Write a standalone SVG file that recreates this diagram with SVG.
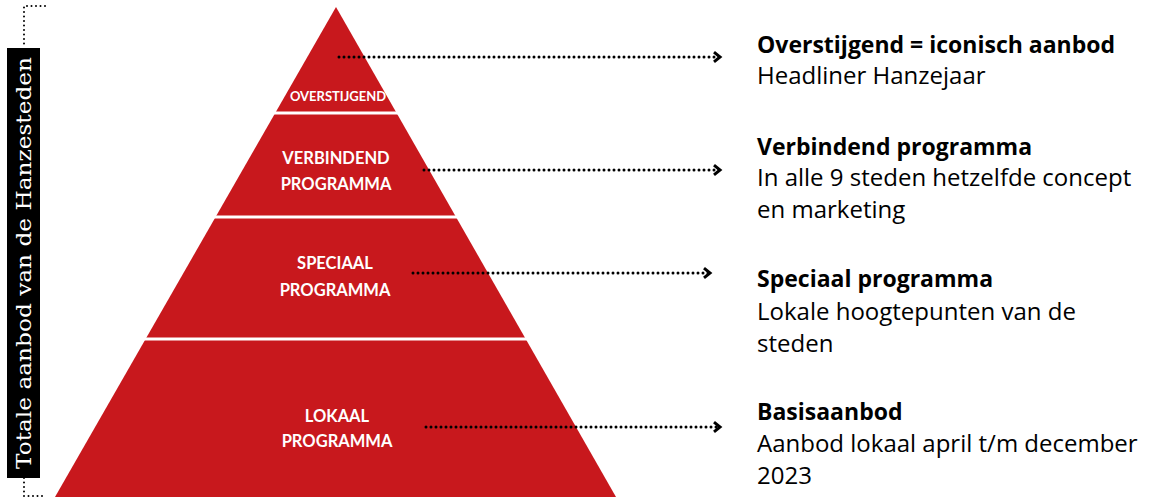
<svg xmlns="http://www.w3.org/2000/svg" width="1149" height="500" viewBox="0 0 1149 500">
<defs>
<style>
.band{fill:#C8181D}
.sep{stroke:#fff;stroke-width:3}
.pl{font-family:Lato,"Open Sans",sans-serif;font-weight:bold;fill:#fff;text-anchor:middle}
.con{stroke:#000;stroke-width:3;stroke-dasharray:0 5;stroke-linecap:round;fill:none}
.dot{stroke:#000;stroke-width:2;stroke-dasharray:0 4.5;stroke-linecap:round;fill:none}
.ttl{font-family:"Open Sans",Lato,sans-serif;font-weight:bold;font-size:23px;fill:#000}
.txt{font-family:"Open Sans",Lato,sans-serif;font-size:24px;fill:#000}
</style>
<marker id="chev" viewBox="0 0 10 10" refX="6" refY="5" markerWidth="4" markerHeight="4" orient="auto" markerUnits="strokeWidth">
<path d="M1,1 L6,5 L1,9" fill="none" stroke="#000" stroke-width="2.5"/>
</marker>
</defs>
<rect width="1149" height="500" fill="#fff"/>
<g id="axis">
<path class="dot" d="M45,6 L24,6 L24,48"/>
<path class="dot" d="M24,478 L24,496 L44,496"/>
<rect x="7" y="48" width="33" height="430" fill="#000"/>
<text transform="translate(31,263) rotate(-90)" text-anchor="middle" font-family="DejaVu Serif, serif" font-size="20" fill="#fff" textLength="412" lengthAdjust="spacingAndGlyphs">Totale aanbod van de Hanzesteden</text>
</g>
<g id="pyramid">
<polygon class="band" points="336,7 616,497 55,497"/>
<line class="sep" x1="260" y1="113" x2="420" y2="113"/>
<line class="sep" x1="200" y1="217" x2="480" y2="217"/>
<line class="sep" x1="130" y1="339" x2="540" y2="339"/>
</g>
<g id="n1"><text class="pl" x="338" y="101" font-size="13">OVERSTIJGEND</text></g>
<g id="n2"><text class="pl" x="336" y="164" font-size="16.5">VERBINDEND</text><text class="pl" x="336" y="190" font-size="16.5">PROGRAMMA</text></g>
<g id="n3"><text class="pl" x="335" y="269" font-size="16.5">SPECIAAL</text><text class="pl" x="335" y="296" font-size="16.5">PROGRAMMA</text></g>
<g id="n4"><text class="pl" x="337" y="422" font-size="16.5">LOKAAL</text><text class="pl" x="337" y="447" font-size="16.5">PROGRAMMA</text></g>
<g id="connectors">
<path class="con" d="M339,57 L720,57" marker-end="url(#chev)"/>
<path class="con" d="M424,170 L720,170" marker-end="url(#chev)"/>
<path class="con" d="M413,273 L710,273" marker-end="url(#chev)"/>
<path class="con" d="M426,427 L720,427" marker-end="url(#chev)"/>
</g>
<g id="d1"><text class="ttl" x="757" y="53">Overstijgend = iconisch aanbod</text><text class="txt" x="757" y="84">Headliner Hanzejaar</text></g>
<g id="d2"><text class="ttl" x="757" y="155">Verbindend programma</text><text class="txt" x="757" y="186">In alle 9 steden hetzelfde concept</text><text class="txt" x="757" y="218">en marketing</text></g>
<g id="d3"><text class="ttl" x="757" y="287">Speciaal programma</text><text class="txt" x="757" y="320">Lokale hoogtepunten van de</text><text class="txt" x="757" y="352">steden</text></g>
<g id="d4"><text class="ttl" x="757" y="420">Basisaanbod</text><text class="txt" x="757" y="452">Aanbod lokaal april t/m december</text><text class="txt" x="757" y="484">2023</text></g>
</svg>
